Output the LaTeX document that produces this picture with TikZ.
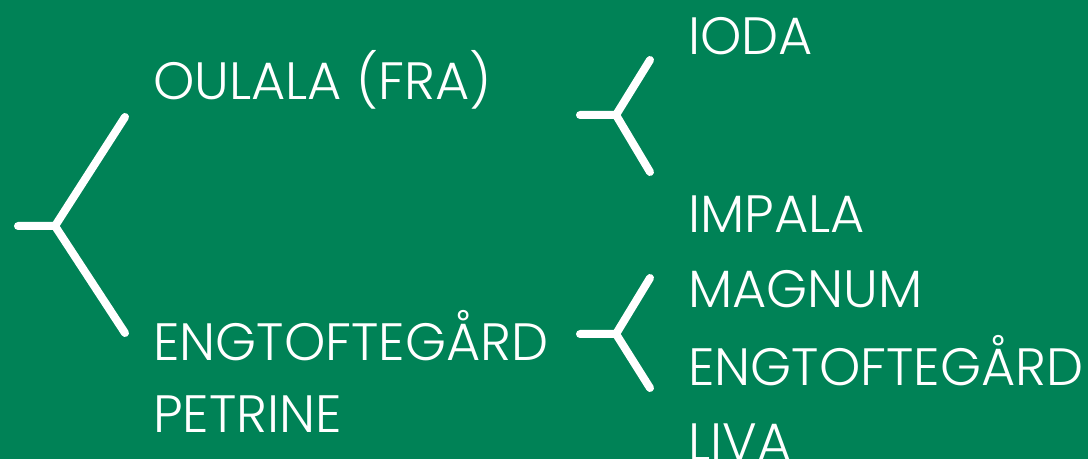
\documentclass[tikz,border=0pt]{standalone}
\usepackage{fontspec}
\setmainfont{Poppins}[UprightFont=* Light]
\definecolor{bggreen}{RGB}{0,130,86}

\begin{document}
\begin{tikzpicture}[x=0.75pt,y=-0.75pt,line cap=round,line join=round,
        branch/.style={draw=white,line width=6pt},
        horse/.style={anchor=base west,inner sep=0pt,text=white,font=\fontsize{39.4}{47}\selectfont}]
        \fill[bggreen] (0,0) rectangle (1088,459);
        \useasboundingbox (0,0) rectangle (1088,459);

        % first split
        \coordinate (S0) at (18,226);
        \coordinate (J0) at (55,226);
        \coordinate (U0) at (125,117);
        \coordinate (D0) at (125,333);

        % upper split
        \coordinate (S1) at (580,115);
        \coordinate (J1) at (616,115);
        \coordinate (U1) at (650,60);
        \coordinate (D1) at (650,172);

        % lower split
        \coordinate (S2) at (580,334);
        \coordinate (J2) at (616,334);
        \coordinate (U2) at (650,278);
        \coordinate (D2) at (650,388);

        \draw[branch] (S0) -- (J0) -- (U0);
        \draw[branch] (J0) -- (D0);
        \draw[branch] (S1) -- (J1) -- (U1);
        \draw[branch] (J1) -- (D1);
        \draw[branch] (S2) -- (J2) -- (U2);
        \draw[branch] (J2) -- (D2);

        \node[horse] (sire) at (153,100) {OULALA (FRA)};
        \node[horse] (dam) at (153,360) {ENGTOFTEGÅRD};
        \node[horse] (dam2) at (153,432) {PETRINE};

        \node[horse] (ss) at (688,55) {IODA};
        \node[horse] (sd) at (688,233) {IMPALA};
        \node[horse] (ds) at (688,308) {MAGNUM};
        \node[horse] (dd) at (688,385) {ENGTOFTEGÅRD};
        \node[horse] (dd2) at (688,460) {LIVA};
    \end{tikzpicture}
\end{document}
